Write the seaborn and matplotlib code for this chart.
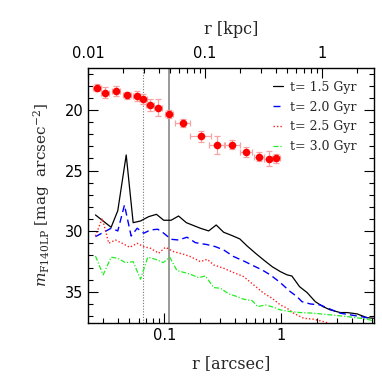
import numpy as np
import pandas as pd
import matplotlib
matplotlib.use("Agg")
import matplotlib.pyplot as plt
from matplotlib.ticker import NullFormatter, FixedLocator
import seaborn as sns

sns.set_theme(style="ticks")
plt.rcParams["font.family"] = ["DejaVu Sans"]
plt.rcParams["mathtext.fontset"] = "dejavuserif"
plt.rcParams["axes.axisbelow"] = False
plt.rcParams["xtick.direction"] = "in"
plt.rcParams["ytick.direction"] = "in"
plt.rcParams["xtick.color"] = "black"
plt.rcParams["ytick.color"] = "black"

# ---- observed profile (red points) ----
obs_r = [0.0266, 0.0309, 0.0384, 0.0476, 0.0577, 0.0658, 0.0759, 0.0883, 0.109,
         0.143, 0.204, 0.282, 0.381, 0.502, 0.644, 0.779, 0.902]
obs_mag = [18.16, 18.57, 18.43, 18.79, 18.82, 19.07, 19.59, 19.81, 20.33,
           21.07, 22.17, 22.86, 22.86, 23.49, 23.85, 24.02, 23.99]
obs_magerr = [0.30, 0.45, 0.45, 0.30, 0.40, 0.40, 0.50, 0.70, 0.35,
              0.30, 0.46, 0.74, 0.36, 0.41, 0.37, 0.62, 0.38]
obs_rerr_dex = [0.034, 0.034, 0.034, 0.034, 0.034, 0.034, 0.034, 0.034, 0.034,
                0.064, 0.090, 0.068, 0.068, 0.051, 0.043, 0.038, 0.034]

# ---- model profiles ----
r_15 = [0.0257, 0.0350, 0.0399, 0.0471, 0.0540, 0.0624, 0.0734, 0.0855, 0.0986, 0.114,
        0.132, 0.154, 0.203, 0.239, 0.277, 0.321, 0.380, 0.441, 0.509, 0.600, 0.706,
        0.834, 0.980, 1.12, 1.23, 1.43, 1.66, 1.95, 2.27, 2.62, 3.19, 3.65, 4.44, 5.40, 6.15]
m_15 = [28.66, 29.68, 28.31, 23.71, 29.30, 29.16, 28.80, 28.61, 29.10, 29.10,
        28.75, 29.30, 29.76, 29.98, 29.49, 30.09, 30.37, 30.64, 31.22, 31.82, 32.38,
        32.93, 33.34, 33.61, 33.70, 34.58, 35.07, 35.82, 36.23, 36.50, 36.72, 36.72,
        36.83, 37.14, 37.19]

r_20 = [0.0257, 0.0350, 0.0399, 0.0455, 0.0519, 0.0585, 0.0665, 0.0759, 0.0877, 0.0986,
        0.114, 0.132, 0.156, 0.184, 0.232, 0.273, 0.321, 0.391, 0.476, 0.580, 0.684,
        0.805, 0.980, 1.19, 1.36, 1.50, 1.77, 2.15, 2.62, 3.19, 3.89, 4.73, 5.77]
m_20 = [30.45, 29.76, 29.98, 27.84, 30.40, 29.76, 30.17, 29.90, 29.84, 30.17,
        30.67, 30.73, 30.50, 30.95, 31.11, 31.28, 31.55, 32.10, 32.46, 32.87, 33.20,
        33.61, 34.25, 34.99, 35.40, 35.82, 36.01, 36.09, 36.44, 36.77, 36.91, 37.05, 37.19]

r_25 = [0.0257, 0.0294, 0.0334, 0.0381, 0.0435, 0.0505, 0.0585, 0.0665, 0.0759, 0.0894,
        0.102, 0.120, 0.146, 0.167, 0.203, 0.232, 0.264, 0.321, 0.391, 0.476, 0.580,
        0.706, 0.834, 0.980, 1.12, 1.27, 1.55, 1.89, 2.30, 2.54]
m_25 = [30.40, 28.94, 31.00, 30.73, 31.00, 31.33, 31.00, 31.28, 31.41, 31.82,
        31.33, 31.69, 31.91, 32.10, 32.52, 32.32, 32.79, 33.06, 33.42, 33.75, 34.44,
        35.12, 35.54, 36.09, 36.36, 36.77, 37.19, 37.27, 37.47, 37.60]

r_30 = [0.0257, 0.0299, 0.0350, 0.0399, 0.0464, 0.0540, 0.0624, 0.0720, 0.0838, 0.0975,
        0.111, 0.128, 0.156, 0.167, 0.196, 0.224, 0.264, 0.301, 0.355, 0.418, 0.476,
        0.562, 0.627, 0.730, 0.859, 0.980, 1.19, 1.45, 1.89, 2.62, 3.65, 4.73, 5.77, 6.15]
m_30 = [32.05, 33.61, 32.15, 32.24, 32.60, 32.52, 33.97, 32.15, 32.32, 32.60,
        32.15, 33.26, 33.47, 33.56, 33.84, 33.70, 34.66, 34.71, 35.18, 35.40, 35.62,
        35.73, 36.23, 36.09, 36.28, 36.50, 36.64, 36.72, 36.77, 36.91, 37.05, 37.19,
        37.33, 37.47]

labels = ["t= 1.5 Gyr", "t= 2.0 Gyr", "t= 2.5 Gyr", "t= 3.0 Gyr"]
vline_solid = 0.11
vline_dotted = 0.066
arcsec_per_kpc = 2.23

kpc_major = [0.01, 0.1, 1]
kpc_major_labels = ["0.01", "0.1", "1"]
kpc_minor = [0.02, 0.03, 0.04, 0.05, 0.06, 0.07, 0.08, 0.09,
             0.2, 0.3, 0.4, 0.5, 0.6, 0.7, 0.8, 0.9, 2]

xmin, xmax = 0.0222, 6.2
rect = [0.2304, 0.1545, 0.7487, 0.6675]

fig = plt.figure(figsize=(3.82, 3.82), dpi=100)
ax = fig.add_axes(rect)

ax.axvline(vline_dotted, color="#777777", lw=0.8, ls=(0, (1, 1.5)), zorder=1)
ax.axvline(vline_solid, color="#888888", lw=1.2, zorder=1)

series = [(r_15, m_15, "black", "-", 0.9),
          (r_20, m_20, "#0000ff", (0, (5, 3)), 1.0),
          (r_25, m_25, "#ff2020", (0, (1, 1.5)), 1.0),
          (r_30, m_30, "#22ee22", (0, (4, 1.5, 1, 1.5)), 0.9)]
for (r, m, c, ls, lw), lab in zip(series, labels):
    df = pd.DataFrame({"r": r, "m": m})
    sns.lineplot(data=df, x="r", y="m", ax=ax, color=c, lw=lw, linestyle=ls,
                 label=lab, sort=False, estimator=None)

obs_r_a = np.array(obs_r)
d = np.array(obs_rerr_dex)
xlo = obs_r_a * (1 - 10 ** (-d))
xhi = obs_r_a * (10 ** d - 1)
ax.errorbar(obs_r, obs_mag, yerr=obs_magerr, xerr=[xlo, xhi], fmt="none",
            ecolor="#f5a3a3", elinewidth=0.9, capsize=2.2, capthick=0.9, zorder=3)
sns.scatterplot(x=obs_r, y=obs_mag, ax=ax, color="#ff0000", s=30,
                edgecolor="#ff0000", linewidth=0, zorder=4)

ax.set_xscale("log")
ax.set_xlim(xmin, xmax)
ax.set_ylim(37.58, 16.53)

ax.set_yticks([20, 25, 30, 35])
ax.set_yticks(np.arange(17, 38, 1), minor=True)
ax.set_xticks([0.1, 1])
ax.set_xticklabels(["0.1", "1"])
ax.tick_params(which="both", direction="in", top=False, right=True, labelsize=10.5,
               width=0.8, color="black")
ax.tick_params(which="major", length=7)
ax.tick_params(which="minor", length=3.5)
for s in ax.spines.values():
    s.set_linewidth(1.0)
    s.set_color("black")

ax.set_xlabel("r [arcsec]", family="DejaVu Serif", fontsize=11.5, labelpad=9)
ax.set_ylabel(r"$m_{\rm F140LP}$ [mag  arcsec$^{-2}$]", family="DejaVu Serif",
              fontsize=11, labelpad=9)

leg = ax.legend(loc="upper right", bbox_to_anchor=(0.955, 0.97), frameon=False,
                handlelength=0.8, handletextpad=0.5, labelspacing=0.55,
                borderaxespad=0.0, prop={"family": "DejaVu Serif", "size": 9})

# independent overlay axes for the kpc scale on top
top = fig.add_axes(rect, frameon=False, zorder=5)
top.patch.set_visible(False)
top.set_xscale("log")
top.set_xlim(xmin / arcsec_per_kpc, xmax / arcsec_per_kpc)
top.yaxis.set_visible(False)
top.xaxis.tick_top()
top.xaxis.set_label_position("top")
top.xaxis.set_major_locator(FixedLocator(kpc_major))
top.set_xticklabels(kpc_major_labels)
top.xaxis.set_minor_locator(FixedLocator(kpc_minor))
top.xaxis.set_minor_formatter(NullFormatter())
top.tick_params(axis="x", which="major", direction="in", length=7, width=0.8,
                color="black", labelsize=10.5, pad=5, top=True, bottom=False,
                labeltop=True, labelbottom=False)
top.tick_params(axis="x", which="minor", direction="in", length=3.5, width=0.8,
                color="black", top=True, bottom=False)
top.set_xlabel("r [kpc]", family="DejaVu Serif", fontsize=11.5, labelpad=9)

fig.savefig("out.png", dpi=100)
